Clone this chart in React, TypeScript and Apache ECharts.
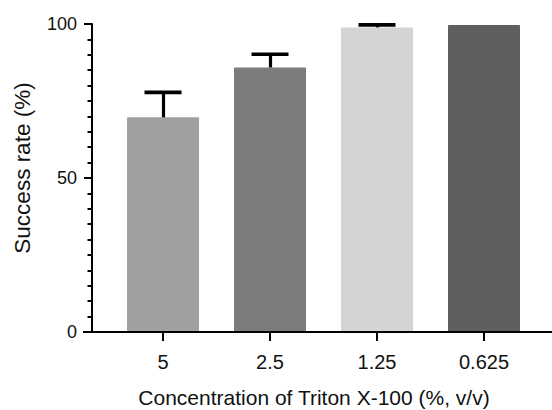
import React, { useEffect, useRef } from "react";
import * as echarts from "echarts";

const categories = ["5", "2.5", "1.25", "0.625"];
const means = [69.7, 85.9, 98.9, 99.7];
const errors = [8.1, 4.3, 0.8, 0];
const barColors = ["#a0a0a3", "#7d7c7d", "#d4d4d4", "#5f5f5f"];
const yTicks = [0, 50, 100];

const FONT = "'Liberation Sans', Arial, sans-serif";

export default function App() {
  const ref = useRef<HTMLDivElement>(null);
  useEffect(() => {
    if (!ref.current) return;
    const chart = echarts.init(ref.current, undefined, { renderer: "svg" });
    const gridTop = 24;
    const gridBottom = 78;
    const axisY = 410 - gridBottom;

    const withErr = means
      .map((m, i) => ({ cat: categories[i], lo: m, hi: m + errors[i], e: errors[i] }))
      .filter((d) => d.e > 0);

    chart.setOption({
      animation: false,
      backgroundColor: "#ffffff",
      grid: { left: 109.5, right: 14.5, top: gridTop, bottom: gridBottom },
      xAxis: {
        type: "category",
        data: categories,
        axisLine: { show: false },
        axisTick: {
          show: true,
          alignWithLabel: true,
          length: 9,
          lineStyle: { color: "#000", width: 2 },
        },
        axisLabel: {
          fontFamily: FONT,
          fontSize: 20,
          color: "#111",
          margin: 20,
        },
        splitLine: { show: false },
      },
      yAxis: {
        type: "value",
        min: yTicks[0],
        max: yTicks[yTicks.length - 1],
        interval: 50,
        offset: 17.5,
        axisLine: { show: true, lineStyle: { color: "#000", width: 2 } },
        axisTick: { show: true, length: 8, lineStyle: { color: "#000", width: 2 } },
        minorTick: {
          show: true,
          splitNumber: 10,
          length: 4.5,
          lineStyle: { color: "#000", width: 2 },
        },
        axisLabel: {
          fontFamily: FONT,
          fontSize: 18,
          color: "#111",
          margin: 15,
        },
        splitLine: { show: false },
      },
      graphic: [
        {
          type: "line",
          shape: { x1: 83, y1: axisY, x2: 552, y2: axisY },
          style: { stroke: "#000", lineWidth: 2 },
          z: 10,
        },
        {
          type: "text",
          x: 314,
          y: 397,
          style: {
            text: "Concentration of Triton X-100 (%, v/v)",
            fontFamily: FONT,
            fontSize: 21,
            fill: "#111",
            align: "center",
            verticalAlign: "middle",
          },
        },
        {
          type: "text",
          x: 22,
          y: 168,
          rotation: Math.PI / 2,
          style: {
            text: "Success rate (%)",
            fontFamily: FONT,
            fontSize: 22.5,
            fill: "#111",
            align: "center",
            verticalAlign: "middle",
          },
        },
      ],
      series: [
        {
          type: "bar",
          barWidth: 72,
          data: means.map((v, i) => ({
            value: v,
            itemStyle: { color: barColors[i], borderRadius: 1 },
          })),
          markLine: {
            silent: true,
            symbol: ["none", "none"],
            label: { show: false },
            emphasis: { disabled: true },
            lineStyle: { color: "#000", width: 3.2, type: "solid" },
            data: withErr.map((d) => [
              { coord: [d.cat, d.lo] },
              { coord: [d.cat, d.hi] },
            ]),
          },
          markPoint: {
            silent: true,
            symbol: "rect",
            symbolSize: [37, 3.6],
            label: { show: false },
            emphasis: { disabled: true },
            itemStyle: { color: "#000" },
            data: withErr.map((d) => ({ coord: [d.cat, d.hi] })),
          },
        },
      ],
    });
    return () => chart.dispose();
  }, []);
  return <div ref={ref} style={{ width: 552, height: 410, position: "absolute", left: 0, top: 0 }} />;
}
